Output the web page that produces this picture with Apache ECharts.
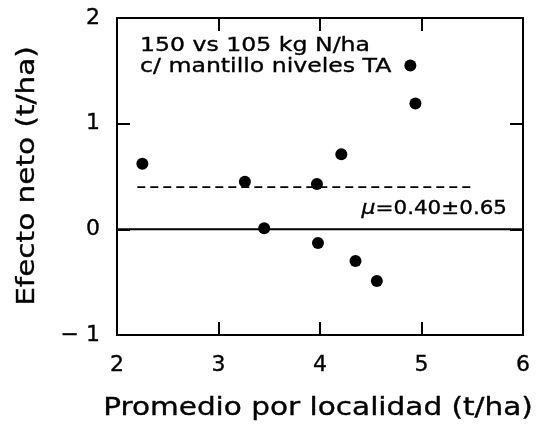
<!DOCTYPE html>
<html>
<head>
<meta charset="utf-8">
<script src="https://cdn.jsdelivr.net/npm/echarts@6/dist/echarts.min.js"></script>
<style>
  html, body { margin: 0; padding: 0; background: #fff; }
  #chart { width: 546px; height: 429px; }
</style>
</head>
<body>
<div id="chart"></div>
<script>
// Mean yield per site (t/ha) and net effect (t/ha), 150 vs 105 kg N/ha
const siteMean  = [2.25, 3.26, 3.45, 3.97, 3.98, 4.21, 4.35, 4.56, 4.89, 4.94];
const netEffect = [0.62, 0.45, 0.01, 0.43, -0.13, 0.71, -0.30, -0.49, 1.55, 1.19];

// Overall mean effect and its span on the x axis
const meanEffect = 0.40;
const meanSd = 0.65;
const meanSpan = [2.2, 5.5];

// Axis ranges and tick steps
const xRange = [2, 6];
const yRange = [-1, 2];
const xStep = 1;
const yStep = 1;

// Texts
const xTitle = 'Promedio por localidad (t/ha)';
const yTitle = 'Efecto neto (t/ha)';
const noteLines = ['150 vs 105 kg N/ha', 'c/ mantillo niveles TA'];

const FONT = '"DejaVu Sans", sans-serif';
const WIDE = 1.23;   // horizontal stretch of the lettering
const INK = 0.35;    // extra outline to thicken the strokes slightly

const points = siteMean.map((x, i) => [x, netEffect[i]]);
const meanLine = meanSpan.map(x => [x, meanEffect]);
const zeroLine = xRange.map(x => [x, 0]);

const chart = echarts.init(document.getElementById('chart'), null, { renderer: 'canvas' });

const axisLine = { show: true, onZero: false, lineStyle: { color: '#000', width: 2 } };
const axisTick = { show: true, inside: true, length: 13, lineStyle: { color: '#000', width: 2 } };
const tickLabel = {
  fontFamily: FONT, fontSize: 22, color: '#000',
  textBorderColor: '#000', textBorderWidth: INK
};

function wideText(x, y, text, size, align, rotation) {
  return {
    type: 'text', x, y, scaleX: WIDE, rotation: rotation || 0, silent: true,
    style: {
      text, font: size + 'px ' + FONT, fill: '#000',
      stroke: '#000', lineWidth: INK,
      textAlign: align, textVerticalAlign: 'middle'
    }
  };
}

chart.setOption({
  animation: false,
  backgroundColor: '#fff',
  grid: { left: 117, right: 23, top: 18, bottom: 94, containLabel: false },
  xAxis: [
    {
      type: 'value', min: xRange[0], max: xRange[1], interval: xStep,
      position: 'bottom',
      axisLine, axisTick,
      axisLabel: Object.assign({ margin: 19 }, tickLabel),
      splitLine: { show: false }
    },
    {
      type: 'value', min: xRange[0], max: xRange[1], interval: xStep,
      position: 'top', axisLine, axisTick,
      axisLabel: { show: false }, splitLine: { show: false }
    }
  ],
  yAxis: [
    {
      type: 'value', min: yRange[0], max: yRange[1], interval: yStep,
      position: 'left',
      axisLine, axisTick,
      axisLabel: Object.assign({
        margin: 17,
        formatter: v => (v < 0 ? '\u2212 ' + Math.abs(v) : String(v))
      }, tickLabel),
      splitLine: { show: false }
    },
    {
      type: 'value', min: yRange[0], max: yRange[1], interval: yStep,
      position: 'right', axisLine, axisTick,
      axisLabel: { show: false }, splitLine: { show: false }
    }
  ],
  series: [
    {
      type: 'line', data: zeroLine, symbol: 'none', silent: true,
      lineStyle: { color: '#000', width: 2 }
    },
    {
      type: 'line', data: meanLine, symbol: 'none', silent: true,
      lineStyle: { color: '#000', width: 1.8, type: [8, 5] }
    },
    {
      type: 'scatter', data: points, symbol: 'circle', symbolSize: 12,
      itemStyle: { color: '#000', opacity: 1 }
    }
  ],
  graphic: [
    // axis titles
    wideText(318, 409, xTitle, 24, 'center'),
    wideText(28, 176, yTitle, 24, 'center', Math.PI / 2),
    // note in the upper left corner
    wideText(140, 46, noteLines[0], 19.2, 'left'),
    wideText(140, 67.5, noteLines[1], 19.2, 'left'),
    // mean ± sd label
    {
      type: 'text', x: 507, y: 209, scaleX: 1.1, silent: true,
      style: {
        text: '{m|\u03bc}{t|=' + meanEffect.toFixed(2) + '\u00b1' + meanSd.toFixed(2) + '}',
        textAlign: 'right', textVerticalAlign: 'middle',
        rich: {
          m: { font: 'italic 20px ' + FONT, fill: '#000', stroke: '#000', lineWidth: INK },
          t: { font: '19.5px ' + FONT, fill: '#000', stroke: '#000', lineWidth: INK }
        }
      }
    }
  ]
});
</script>
</body>
</html>
